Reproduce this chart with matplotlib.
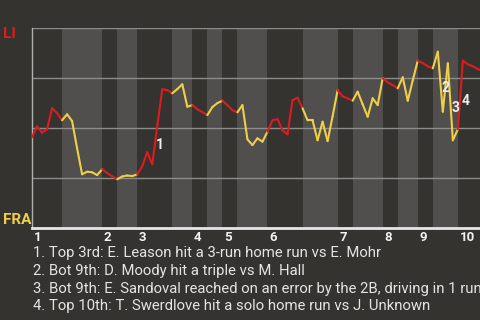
import numpy as np
import matplotlib
matplotlib.use("Agg")
import matplotlib.pyplot as plt
from matplotlib.collections import LineCollection

# LI win probability (%) after each plate appearance
li_win_pct = [
    45.5, 51, 47.8, 49.5, 60, 57.6, 54,            # top 1
    57, 53.6, 40, 27, 28.3, 28, 26.6, 29.5,        # bot 1
    27.6, 26, 24.5,                                # top 2
    25.9, 26.4, 26.1, 27,                          # bot 2
    31, 38, 32, 51, 69.5, 69.1, 67.5,              # top 3
    69.6, 72, 60.8, 61.6,                          # bot 3
    59.5, 58.1, 56.6,                              # top 4
    60.6, 62.6, 63.8,                              # bot 4
    61.6, 59, 58,                                  # top 5
    61.6, 44.5, 41.6, 45, 43.3, 48.3,              # bot 5
    54, 54.6, 49, 47, 64, 65.3, 60,                # top 6
    54, 54, 44, 53.3, 43.6, 56, 69,                # bot 6
    66, 65, 63.8,                                  # top 7
    68.3, 62, 55.8, 65, 61.6, 75,                  # bot 7
    73, 71.6, 70,                                  # top 8
    75.5, 63.8, 74, 83.8,                          # bot 8
    82.6, 81, 80,                                  # top 9
    88.3, 58.3, 82.5, 44, 49.5,                    # bot 9
    83.8, 82, 81, 79.6, 78.6,                      # top 10
]

# plate appearances in each half inning (top 1, bot 1, top 2, ...)
half_inning_pa = [6, 8, 3, 4, 7, 4, 3, 3, 3, 6, 7, 7, 3, 6, 3, 4, 3, 5, 5]
inning_labels = ["1", "2", "3", "4", "5", "6", "7", "8", "9", "10"]

# key plays: (plate appearance index, win pct, label)
key_play_idx = [25.6, 82.6, 84.6, 86.6]
key_play_pct = [41.5, 70, 60, 63.6]
key_play_text = [
    "1. Top 3rd: E. Leason hit a 3-run home run vs E. Mohr",
    "2. Bot 9th: D. Moody hit a triple vs M. Hall",
    "3. Bot 9th: E. Sandoval reached on an error by the 2B, driving in 1 run",
    "4. Top 10th: T. Swerdlove hit a solo home run vs J. Unknown",
]

BG = "#353330"
BAND = "#504f4d"
RED = "#dc1c1e"
YELLOW = "#f0cf48"


def main():
    plt.rcParams["font.family"] = ["Roboto", "DejaVu Sans"]
    fig = plt.figure(figsize=(4.8, 3.2), dpi=100, facecolor=BG)
    ax = fig.add_axes([32 / 480, (320 - 228.3) / 320, 448 / 480, 200 / 320])
    ax.set_facecolor(BG)

    bounds = np.concatenate([[0], np.cumsum(half_inning_pa)])

    # shade the bottom halves
    for k in range(1, len(half_inning_pa), 2):
        ax.axvspan(bounds[k], bounds[k + 1], color=BAND, lw=0, zorder=0)

    for g in [25, 50, 75, 100]:
        ax.axhline(g, color="#8c8c8a", lw=1.0, zorder=1)

    # line coloured by which team is batting
    x = np.arange(len(li_win_pct))
    y = np.array(li_win_pct)
    segs, cols = [], []
    for i in range(len(x) - 1):
        half = np.searchsorted(bounds, i + 1, side="left") - 1
        segs.append([(x[i], y[i]), (x[i + 1], y[i + 1])])
        cols.append(RED if half % 2 == 0 else YELLOW)
    lc = LineCollection(segs, colors=cols, linewidths=1.5, zorder=3,
                        capstyle="round", joinstyle="round")
    ax.add_collection(lc)

    for xi, yi, s in zip(key_play_idx, key_play_pct, range(1, 5)):
        ax.text(xi, yi, str(s), color="#eeeeee", fontsize=10, fontweight="bold",
                ha="center", va="center", zorder=4)

    ax.set_xlim(0, 448 / 5.01)
    ax.set_ylim(0, 100)
    ax.set_xticks([])
    ax.set_yticks([])
    for side in ["top", "right"]:
        ax.spines[side].set_visible(False)
    ax.spines["left"].set_color("#b0b0ae")
    ax.spines["left"].set_linewidth(1.0)
    ax.spines["bottom"].set_color("#e6e6e6")
    ax.spines["bottom"].set_linewidth(2.0)

    trans = ax.get_xaxis_transform()
    for k, lab in enumerate(inning_labels):
        ax.text(bounds[2 * k] + 0.35, -0.045, lab, transform=trans, color="#f2f2f2",
                fontsize=9.5, fontweight="bold", ha="left", va="center", clip_on=False)

    fig.text(3 / 480, 1 - 33.5 / 320, "LI", color=RED, fontsize=11,
             fontweight="bold", ha="left", va="center")
    fig.text(3 / 480, 1 - 219.5 / 320, "FRA", color=YELLOW, fontsize=11,
             fontweight="bold", ha="left", va="center")

    for n, line in enumerate(key_play_text):
        fig.text(33 / 480, 1 - (253 + 17.8 * n) / 320, line, color="#e4e4e4",
                 fontsize=10.7, ha="left", va="center")

    fig.savefig("out.png", dpi=100, facecolor=BG)


if __name__ == "__main__":
    main()
